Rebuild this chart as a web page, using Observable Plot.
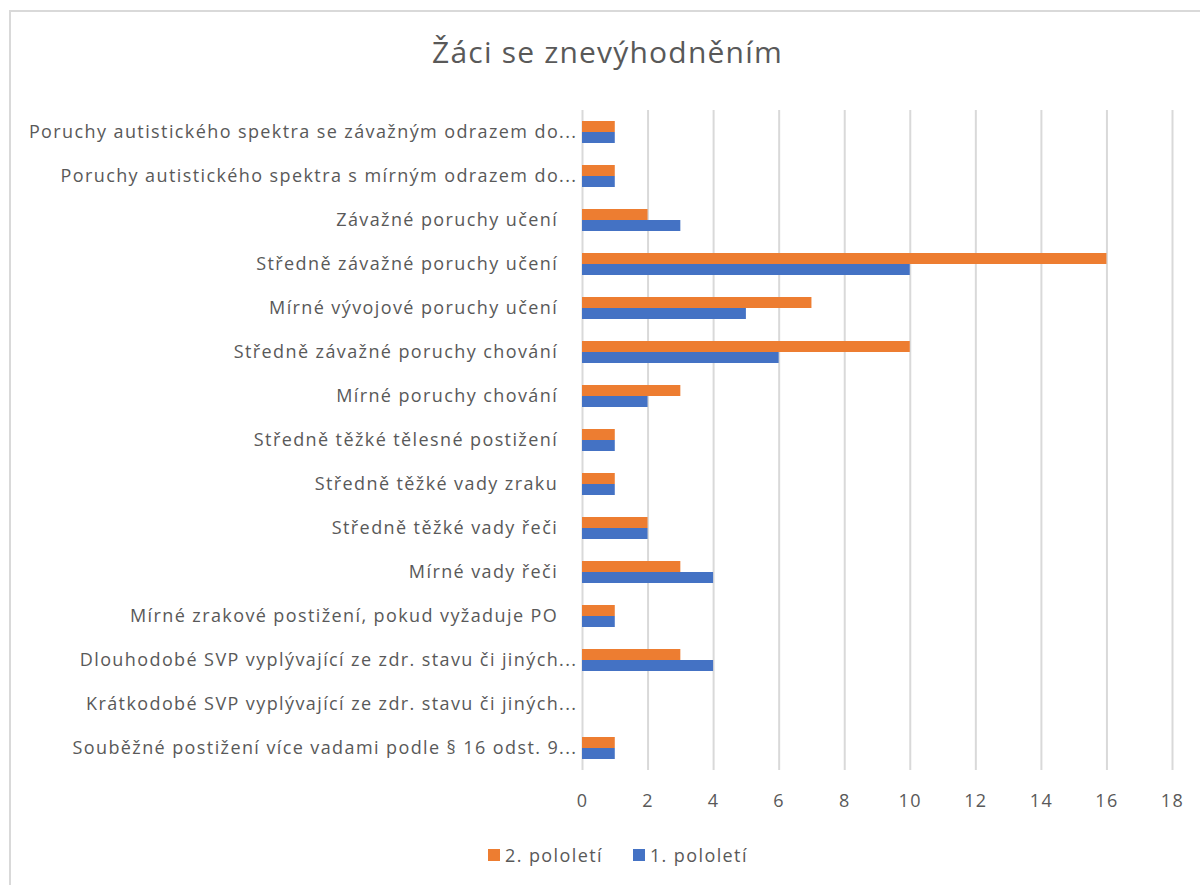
<!DOCTYPE html>
<html>
<head>
<meta charset="utf-8">
<script src="https://cdn.jsdelivr.net/npm/d3@7"></script>
<script src="https://cdn.jsdelivr.net/npm/@observablehq/plot@0.6"></script>
<style>
  html, body { margin: 0; padding: 0; background: #fff; }
  body { width: 1200px; height: 885px; overflow: hidden; position: relative; font-family: "Open Sans", sans-serif; color: #595959; }
  #frame { position: absolute; left: 9px; top: 10px; width: 1300px; height: 1000px; border: 2px solid #d9d9d9; box-sizing: border-box; }
  #title { position: absolute; left: 0; width: 1215px; top: 31px; text-align: center; font-size: 30px; letter-spacing: 1.2px; line-height: normal; color: #595959; }
  #chart { position: absolute; left: 0; top: 0; }
  #legend { position: absolute; top: 843px; left: 488px; font-size: 18px; letter-spacing: 1.4px; line-height: normal; display: flex; align-items: center; color: #595959; }
  #legend .sw { display: inline-block; width: 12px; height: 12px; margin-right: 5px; }
  #legend .item { display: flex; align-items: center; margin-right: 30px; }
</style>
</head>
<body>
<div id="frame"></div>
<div id="title">Žáci se znevýhodněním</div>
<div id="chart"></div>
<div id="legend"></div>
<script>
const categories = [
  "Poruchy autistického spektra se závažným odrazem do...",
  "Poruchy autistického spektra s mírným odrazem do...",
  "Závažné poruchy učení\u2003",
  "Středně závažné poruchy učení\u2003",
  "Mírné vývojové poruchy učení\u2003",
  "Středně závažné poruchy chování\u2003",
  "Mírné poruchy chování\u2003",
  "Středně těžké tělesné postižení\u2003",
  "Středně těžké vady zraku\u2003",
  "Středně těžké vady řeči\u2003",
  "Mírné vady řeči\u2003",
  "Mírné zrakové postižení, pokud vyžaduje PO\u2003",
  "Dlouhodobé SVP vyplývající ze zdr. stavu či jiných...",
  "Krátkodobé SVP vyplývající ze zdr. stavu či jiných...",
  "Souběžné postižení více vadami podle § 16 odst. 9..."
];
const seriesNames = ["2. pololetí", "1. pololetí"];
const seriesColors = ["#ED7D31", "#4472C4"];
const values2 = [1, 1, 2, 16, 7, 10, 3, 1, 1, 2, 3, 1, 3, 0, 1];
const values1 = [1, 1, 3, 10, 5, 6, 2, 1, 1, 2, 4, 1, 4, 0, 1];
const xTicks = [0, 2, 4, 6, 8, 10, 12, 14, 16, 18];

const data = [];
categories.forEach((c, i) => {
  data.push({cat: c, series: seriesNames[0], value: values2[i]});
  data.push({cat: c, series: seriesNames[1], value: values1[i]});
});

const chart = Plot.plot({
  width: 1200,
  height: 830,
  marginLeft: 582,
  marginRight: 28,
  marginTop: 103,
  marginBottom: 53,
  style: {fontFamily: "'Open Sans', sans-serif", color: "#595959", background: "transparent", letterSpacing: "1.4px"},
  x: {domain: [0, 18], axis: null},
  fy: {domain: categories, padding: 0, axis: null},
  y: {domain: seriesNames, axis: null, paddingInner: 0, paddingOuter: 0.87},
  color: {domain: seriesNames, range: seriesColors},
  marks: [
    Plot.ruleX(xTicks, {stroke: "#d9d9d9", strokeWidth: 2}),
    Plot.barX(data, {fy: "cat", y: "series", x: "value", fill: "series"}),
    Plot.axisFy({anchor: "left", tickSize: 0, tickPadding: 5, fontSize: 18, label: null, fill: "#595959"}),
    Plot.axisX({ticks: xTicks, tickSize: 0, tickPadding: 24, fontSize: 18, label: null, fill: "#595959", tickFormat: d => d})
  ]
});
document.getElementById("chart").appendChild(chart);

const legend = document.getElementById("legend");
seriesNames.forEach((s, i) => {
  const item = document.createElement("span");
  item.className = "item";
  const sw = document.createElement("span");
  sw.className = "sw";
  sw.style.background = seriesColors[i];
  item.appendChild(sw);
  item.appendChild(document.createTextNode(s));
  legend.appendChild(item);
});
</script>
</body>
</html>
